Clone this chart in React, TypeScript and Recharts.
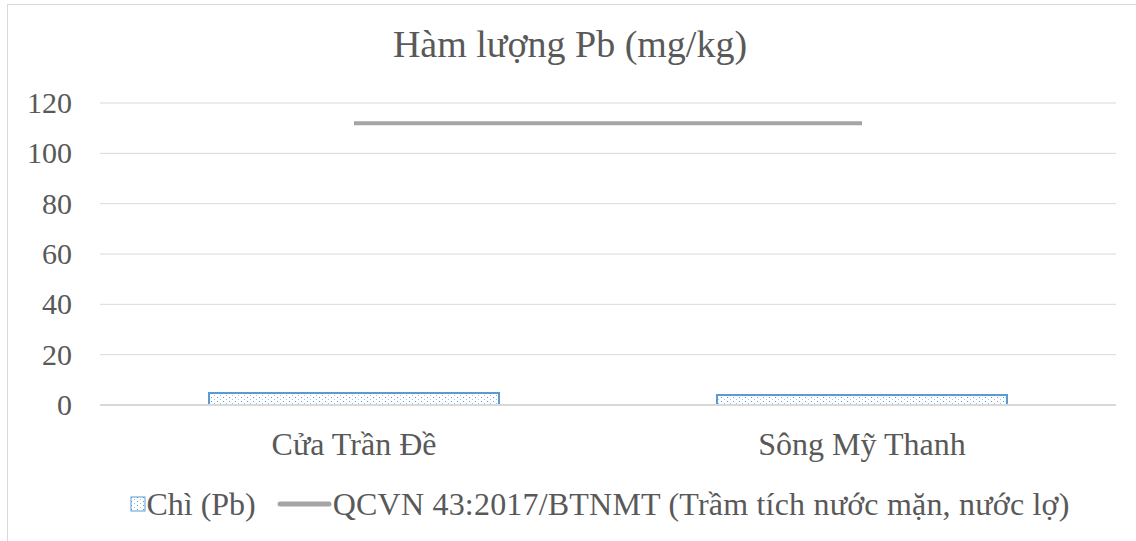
import React from 'react';
import { ComposedChart, Bar, Line, XAxis, YAxis, CartesianGrid, Legend } from 'recharts';

// Dữ liệu
const sites = ['Cửa Trần Đề', 'Sông Mỹ Thanh'];
const pbValues = [4.8, 4.0];
const qcvnLimit = [112, 112];
const yTicks = [0, 20, 40, 60, 80, 100, 120];

const data = sites.map((name, i) => ({ name, pb: pbValues[i], qcvn: qcvnLimit[i] }));

const FONT = '"Liberation Serif", "Times New Roman", serif';
const TEXT = '#595959';

const XTick = (props: any) => {
  const { x, y, payload } = props;
  return (
    <text x={x} y={y} dy={50} textAnchor="middle" style={{ fontFamily: FONT }} fontSize={32} fill={TEXT}>
      {payload.value}
    </text>
  );
};

const YTick = (props: any) => {
  const { x, y, payload } = props;
  return (
    <text x={x} y={y} dy={10} textAnchor="end" style={{ fontFamily: FONT }} fontSize={30} fill={TEXT}>
      {payload.value}
    </text>
  );
};

const renderLegend = () => (
  <div style={{ display: 'flex', justifyContent: 'center', alignItems: 'center', fontFamily: FONT, fontSize: 32, lineHeight: '36px', color: TEXT, paddingLeft: 84 }}>
    <svg width={16} height={16}>
      <rect x={1} y={1} width={14} height={14} fill="url(#dotPattern)" stroke="#5b9bd5" strokeWidth={1} />
    </svg>
    <span>Chì (Pb)</span>
    <svg width={56} height={14} style={{ marginLeft: 21 }}>
      <line x1={3} y1={7} x2={52} y2={7} stroke="#a5a5a5" strokeWidth={5} strokeLinecap="round" />
    </svg>
    <span style={{ letterSpacing: 0.2 }}>QCVN 43:2017/BTNMT (Trầm tích nước mặn, nước lợ)</span>
  </div>
);

const App: React.FC = () => {
  return (
    <div style={{ position: 'absolute', left: 0, top: 0, width: 1136, height: 541, overflow: 'hidden', background: '#fff', fontFamily: FONT }}>
      <div style={{ position: 'absolute', left: 7, top: 4, width: 1200, height: 600, border: '1px solid #d9d9d9' }} />
      <div style={{ position: 'absolute', left: 2, top: 25, width: 1136, textAlign: 'center', fontFamily: FONT, fontSize: 38, lineHeight: 1, color: TEXT }}>
        Hàm lượng Pb (mg/kg)
      </div>
      <div style={{ position: 'absolute', left: 0, top: 0 }}>
        <ComposedChart width={1136} height={541} data={data} margin={{ top: 103, right: 20, bottom: 19, left: 0 }}>
          <defs>
            <pattern id="dotPattern" width={6} height={4} patternUnits="userSpaceOnUse">
              <rect width={6} height={4} fill="#fff" />
              <rect x={1} y={1} width={1} height={1} fill="#5b9bd5" />
              <rect x={4} y={3} width={1} height={1} fill="#9dc3e6" />
            </pattern>
          </defs>
          <CartesianGrid vertical={false} stroke="#d9d9d9" strokeWidth={1} />
          <XAxis
            dataKey="name"
            axisLine={{ stroke: '#d9d9d9', strokeWidth: 2 }}
            tickLine={false}
            tickSize={0}
            tickMargin={0}
            tick={<XTick />}
            height={81}
          />
          <YAxis
            domain={[0, 120]}
            ticks={yTicks}
            axisLine={false}
            tickLine={false}
            tickSize={0}
            tickMargin={28}
            width={100}
            tick={<YTick />}
          />
          <Bar dataKey="pb" name="Chì (Pb)" barSize={290} fill="url(#dotPattern)" stroke="#5b9bd5" strokeWidth={2} isAnimationActive={false} />
          <Line dataKey="qcvn" name="QCVN 43:2017/BTNMT (Trầm tích nước mặn, nước lợ)" stroke="#a5a5a5" strokeWidth={4} dot={false} isAnimationActive={false} />
          <Legend verticalAlign="bottom" content={renderLegend} />
        </ComposedChart>
      </div>
    </div>
  );
};

export default App;
